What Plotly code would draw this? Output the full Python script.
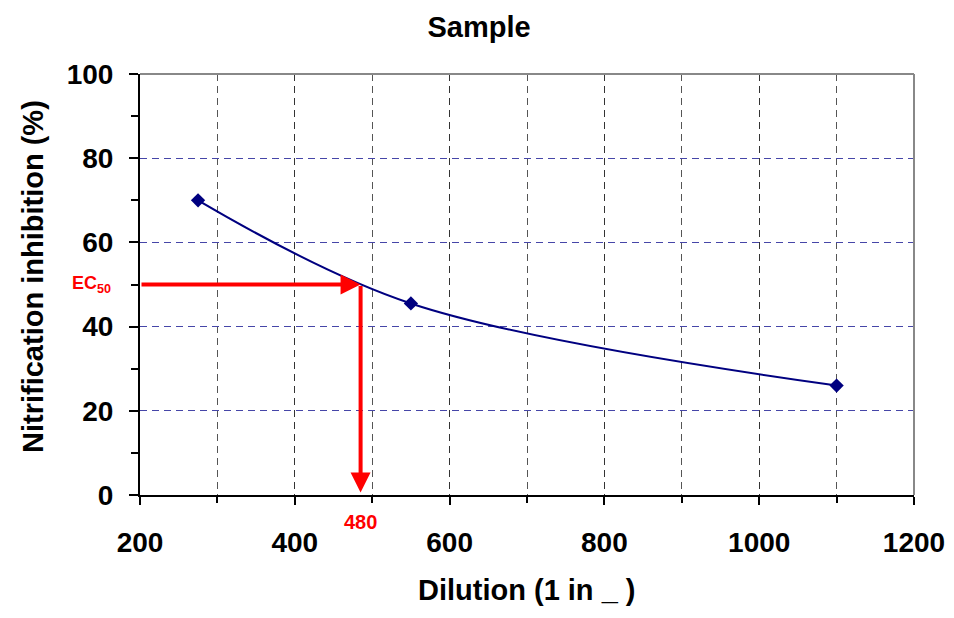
import plotly.graph_objects as go

dilution = [275, 550, 1100]
inhibition = [70, 45.5, 26]
ec50_x = 485
ec50_y = 50
ec50_label = "480"
x_ticks = [200, 400, 600, 800, 1000, 1200]
y_ticks = [0, 20, 40, 60, 80, 100]

FONT = "Liberation Sans, Arial, sans-serif"

fig = go.Figure()
fig.add_trace(go.Scatter(
    x=dilution, y=inhibition, mode="lines+markers",
    line=dict(color="#000080", width=2, shape="spline", smoothing=1.0),
    marker=dict(symbol="diamond", size=11, color="#000080"),
    showlegend=False, hoverinfo="skip",
))

fig.update_layout(
    width=938, height=602,
    margin=dict(l=132, r=32, t=66, b=115),
    paper_bgcolor="white", plot_bgcolor="white",
    font=dict(family=FONT, color="black"),
    title=dict(text="<b>Sample</b>", x=(479 - 8) / 938, xanchor="center", xref="container",
               y=1 - 19/602, yanchor="middle", yref="container",
               font=dict(size=29, family=FONT)),
    xaxis=dict(
        range=[200, 1200], tickvals=x_ticks, ticktext=[str(v) for v in x_ticks],
        showline=True, linecolor="black", linewidth=2,
        ticks="outside", ticklen=8, tickwidth=2, tickcolor="black",
        tickfont=dict(size=28, family=FONT, weight="bold"),
        ticklabelstandoff=13, automargin=False,
        showgrid=True, gridcolor="#333333", gridwidth=1, griddash="7px,5px",
        minor=dict(dtick=100, tick0=200, ticks="outside", ticklen=6, tickcolor="black",
                   showgrid=True, gridcolor="#555555", griddash="7px,5px", gridwidth=1),
        zeroline=False, fixedrange=True,
    ),
    yaxis=dict(
        range=[0, 100], tickvals=y_ticks, ticktext=[str(v) for v in y_ticks],
        showline=True, linecolor="black", linewidth=2,
        ticks="outside", ticklen=9, tickwidth=2, tickcolor="black",
        tickfont=dict(size=28, family=FONT, weight="bold"),
        ticklabelstandoff=10, automargin=False,
        showgrid=True, gridcolor="#4646a8", gridwidth=1, griddash="7px,5px",
        minor=dict(dtick=10, tick0=0, ticks="outside", ticklen=7, tickcolor="black",
                   showgrid=False),
        zeroline=False, fixedrange=True,
    ),
)

# top and right frame (gray)
fig.add_shape(type="line", xref="paper", yref="paper", x0=0, x1=1, y0=1, y1=1,
              line=dict(color="#888888", width=2))
fig.add_shape(type="line", xref="paper", yref="paper", x0=1, x1=1, y0=0, y1=1,
              line=dict(color="#888888", width=2))

# axis titles
fig.add_annotation(text="<b>Dilution (1 in _ )</b>", xref="paper", yref="paper",
                   x=(527 - 140) / 774, y=0, yshift=-95, xanchor="center", yanchor="middle",
                   showarrow=False, font=dict(size=29, family=FONT))
fig.add_annotation(text="<b>Nitrification inhibition (%)</b>", xref="paper", yref="paper",
                   x=0, y=(495 - 277) / 421, xshift=-107, xanchor="center", yanchor="middle",
                   textangle=-90, showarrow=False, font=dict(size=29, family=FONT))

# EC50 arrows
fig.add_annotation(x=ec50_x, y=ec50_y, ax=200, ay=ec50_y, xref="x", yref="y",
                   axref="x", ayref="y", text="", showarrow=True,
                   arrowhead=2, arrowsize=1, arrowwidth=4, arrowcolor="#ff0000")
fig.add_annotation(x=ec50_x, y=0.6, ax=ec50_x, ay=ec50_y, xref="x", yref="y",
                   axref="x", ayref="y", text="", showarrow=True,
                   arrowhead=2, arrowsize=1, arrowwidth=4, arrowcolor="#ff0000")
fig.add_annotation(text="<b>EC<sub>50</sub></b>", xref="paper", yref="y",
                   x=0, y=ec50_y, xshift=-27, xanchor="right", yanchor="middle",
                   showarrow=False, font=dict(size=18, family=FONT, color="#ff0000"))
fig.add_annotation(text="<b>" + ec50_label + "</b>", xref="x", yref="paper",
                   x=ec50_x, y=0, yshift=-27, xanchor="center", yanchor="middle",
                   showarrow=False, font=dict(size=20, family=FONT, color="#ff0000"))

fig.write_html("out.html")
